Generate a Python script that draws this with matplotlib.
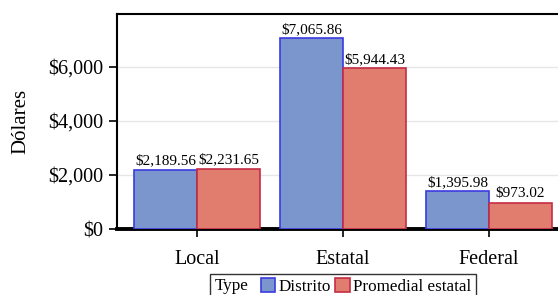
import matplotlib.pyplot as plt
import numpy as np
from matplotlib.offsetbox import HPacker
from matplotlib.ticker import FuncFormatter

categorias = ['Local', 'Estatal', 'Federal']
distrito = [2189.56, 7065.86, 1395.98]
promedio_estatal = [2231.65, 5944.43, 973.02]
series = ['Distrito', 'Promedial estatal']

plt.rcParams['font.family'] = ['Liberation Serif', 'DejaVu Serif']

# Crear la figura y el eje (el eje se sale un poco por la derecha, como en la imagen)
fig = plt.figure(figsize=(5.58, 2.95), dpi=100)
ax = fig.add_axes([0.2097, 0.2237, 0.81, 0.7288])

x = np.arange(len(categorias))
ancho = 0.43
b1 = ax.bar(x - ancho / 2, distrito, ancho, color='#7b96cc', edgecolor='#3b3be0',
            linewidth=1.2, label=series[0], zorder=3)
b2 = ax.bar(x + ancho / 2, promedio_estatal, ancho, color='#e07d6f', edgecolor='#c42d44',
            linewidth=1.2, label=series[1], zorder=3)

# Etiquetas de valores
for barras in (b1, b2):
    for r in barras:
        v = r.get_height()
        ax.text(r.get_x() + r.get_width() / 2, v + 90, f'${v:,.2f}',
                ha='center', va='bottom', fontsize=11)

ax.set_xlim(-0.548, 2.548)
ax.set_ylim(0, 7960)
ax.set_yticks([0, 2000, 4000, 6000])
ax.yaxis.set_major_formatter(FuncFormatter(lambda v, p: f'${v:,.0f}'))
ax.set_xticks(x)
ax.set_xticklabels(categorias)
ax.tick_params(axis='both', labelsize=14.5, length=6, width=1.2, colors='black')
ax.tick_params(axis='x', pad=9)
ax.tick_params(axis='y', pad=4)
ax.set_ylabel('Dólares', fontsize=15, labelpad=13)

# Grilla y bordes
ax.grid(axis='y', color='#e6e6e6', linewidth=1, zorder=0)
ax.set_axisbelow(True)
ax.spines['right'].set_visible(False)
ax.spines['left'].set_linewidth(1.5)
ax.spines['top'].set_linewidth(1.5)
ax.spines['bottom'].set_linewidth(2.8)

# Leyenda con el titulo en la misma fila
leg = ax.legend(loc='upper center', bbox_to_anchor=(0.5, -0.208), ncol=2, fontsize=12.3,
                title='Type', title_fontsize=12.3, frameon=True, fancybox=False,
                edgecolor='black', handlelength=0.85, handleheight=0.85,
                handletextpad=0.2, columnspacing=0.25, borderpad=0.25, borderaxespad=0)
leg.get_frame().set_linewidth(1.0)
fs = leg._fontsize
caja = HPacker(pad=leg.borderpad * fs, sep=0.7 * fs, align='center',
               children=[leg._legend_title_box, leg._legend_handle_box])
caja.set_figure(fig)
caja.axes = ax
caja.set_offset(leg._findoffset)
leg._legend_box = caja

fig.savefig('out.png', dpi=100)
